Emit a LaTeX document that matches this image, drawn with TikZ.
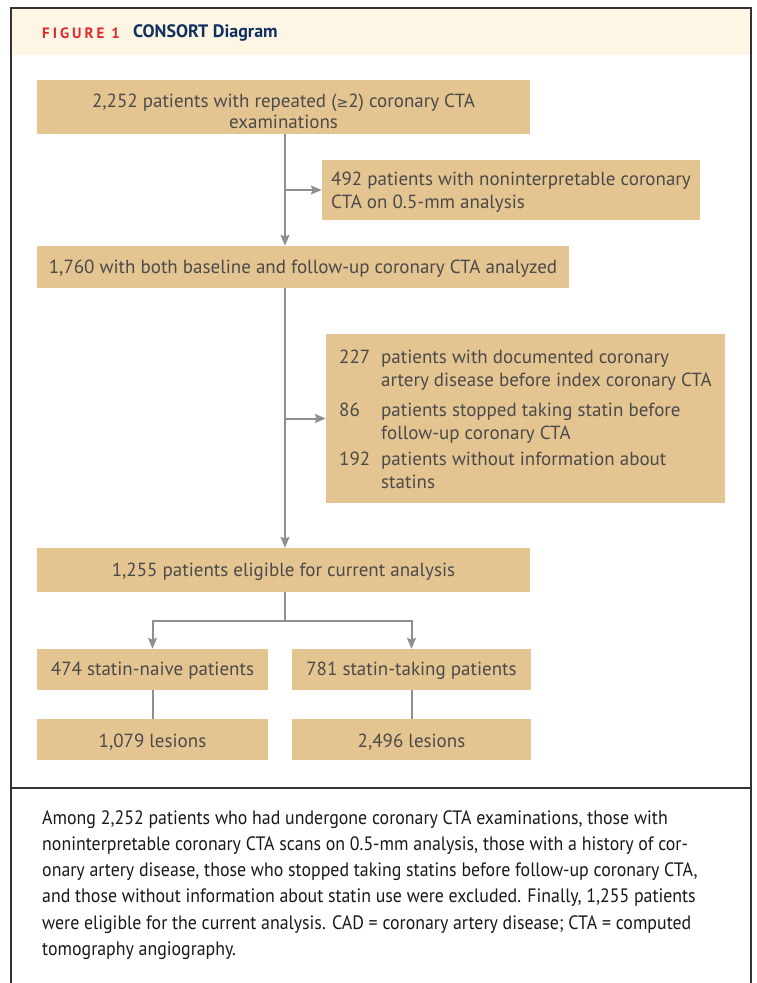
\documentclass[tikz,border=0pt]{standalone}
\usepackage{fontspec}
\setmainfont{PT Sans}
\newfontfamily\capfont[FakeStretch=0.92]{PT Sans}
\newfontfamily\symfont{DejaVu Sans}
\usetikzlibrary{arrows.meta}
\definecolor{boxfill}{HTML}{E4C591}
\definecolor{txt}{HTML}{4A4A4A}
\definecolor{arrc}{HTML}{8E8E93}
\definecolor{hdr}{HTML}{FDF6E4}
\definecolor{figred}{HTML}{E3262D}
\definecolor{navy}{HTML}{10305F}
\begin{document}
\begin{tikzpicture}[x=1pt,y=-1pt,
  box/.style={fill=boxfill,inner sep=0pt,text=txt,font=\fontsize{19}{21}\selectfont},
  conn/.style={draw=arrc,line width=2pt,-{Stealth[length=11pt,width=9pt,inset=2pt]}},
  plainline/.style={draw=arrc,line width=2pt},
  frame/.style={line width=1.8pt,draw=black!80}]
\useasboundingbox (0,0) rectangle (756,983);
\fill[white] (0,0) rectangle (756,983);
\fill[hdr] (11,8) rectangle (751,55);
\draw[frame] (11,990) -- (11,8) -- (751,8) -- (751,990);
\draw[frame] (11,788) -- (751,788);

\node[anchor=west,inner sep=0pt,text=figred,font=\bfseries\fontsize{15}{17}\selectfont\addfontfeatures{LetterSpace=20}] (fig) at (42,33) {FIGURE 1};
\node[anchor=west,inner sep=0pt,text=navy,font=\bfseries\fontsize{18}{20}\selectfont] (ttl) at (133,33) {CONSORT Diagram};

\node[box,minimum width=493pt,minimum height=54pt,align=center] (b1) at (283.5,107)
  {\rule{0pt}{22pt}2,252 patients with repeated ({\symfont\fontsize{14}{16}\selectfont ≥}2) coronary CTA\\examinations};
\node[box,minimum width=378pt,minimum height=60pt,align=left,font=\fontsize{19}{23}\selectfont] (b2) at (511,190)
  {\rule{0pt}{18pt}492 patients with noninterpretable coronary\\CTA on 0.5-mm analysis};
\node[box,minimum width=532pt,minimum height=42pt,align=center] (b3) at (303,267)
  {\rule{0pt}{16pt}1,760 with both baseline and follow-up coronary CTA analyzed};
\node[box,minimum width=399pt,minimum height=169pt,align=left,font=\fontsize{19}{23}\selectfont] (b4) at (525.5,418.5)
  {\raisebox{-2.5pt}[\height][\depth]{\def\arraystretch{1.0}\begin{tabular}{@{}l@{\hspace{11pt}}l@{}}
   227 & patients with documented coronary\\
       & artery disease before index coronary CTA\\[7pt]
   86  & patients stopped taking statin before\\
       & follow-up coronary CTA\\[3pt]
   192 & patients without information about\\
       & statins
   \end{tabular}}};
\node[box,minimum width=493pt,minimum height=44pt,align=center] (b5) at (283.5,570)
  {\rule{0pt}{18pt}1,255 patients eligible for current analysis};
\node[box,minimum width=231pt,minimum height=41pt] (b6) at (152.5,669.5) {\rule{0pt}{16pt}474 statin-naive patients};
\node[box,minimum width=239pt,minimum height=41pt] (b7) at (411.5,669.5) {\rule{0pt}{16pt}781 statin-taking patients};
\node[box,minimum width=231pt,minimum height=41pt] (b8) at (152.5,739.5) {\rule{0pt}{18pt}1,079 lesions};
\node[box,minimum width=239pt,minimum height=41pt] (b9) at (411.5,739.5) {\rule{0pt}{18pt}2,496 lesions};

\coordinate (sp) at (285,0);
\coordinate (split) at (285,621);
\draw[conn] (b1.south -| sp) -- (b3.north -| sp);
\draw[conn] (sp |- b2.west) -- (b2.west);
\draw[conn] (b3.south -| sp) -- (b5.north -| sp);
\draw[conn] (sp |- b4.west) -- (b4.west);
\draw[plainline] (b5.south -| sp) -- (split);
\draw[conn] (split) -| (b6.north);
\draw[conn] (split) -| (b7.north);
\draw[plainline] (b6.south) -- (b8.north);
\draw[plainline] (b7.south) -- (b9.north);

\node[anchor=north west,inner sep=0pt,text=black!90,align=left,font=\capfont\fontsize{19.4}{26.3}\selectfont] (cap) at (42,810)
  {Among 2,252 patients who had undergone coronary CTA examinations, those with\\
   noninterpretable coronary CTA scans on 0.5-mm analysis, those with a history of cor-\\
   onary artery disease, those who stopped taking statins before follow-up coronary CTA,\\
   and those without information about statin use were excluded. Finally, 1,255 patients\\
   were eligible for the current analysis. CAD = coronary artery disease; CTA = computed\\
   tomography angiography.};
\end{tikzpicture}
\end{document}
